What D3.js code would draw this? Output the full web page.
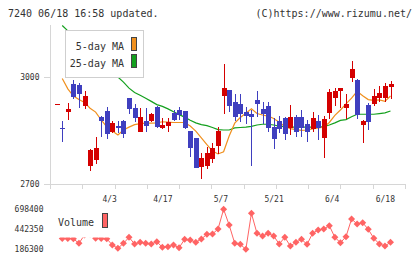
<!DOCTYPE html>
<html><head><meta charset="utf-8">
<script src="https://cdn.jsdelivr.net/npm/d3@7"></script>
<style>
html,body{margin:0;padding:0;background:#fff;}
svg{display:block;}
text{font-family:"DejaVu Sans Mono",monospace;fill:#333;}
</style></head><body>
<svg id="chart" width="420" height="259"></svg>
<script>
const dates = ["3/19","3/23","3/24","3/25","3/26","3/27","3/30","3/31","4/1","4/2","4/3","4/6","4/7","4/8","4/9","4/10","4/13","4/14","4/15","4/16","4/17","4/20","4/21","4/22","4/23","4/24","4/27","4/28","4/30","5/1","5/7","5/8","5/11","5/12","5/13","5/14","5/15","5/18","5/19","5/20","5/21","5/22","5/25","5/26","5/27","5/28","5/29","6/1","6/2","6/3","6/4","6/5","6/8","6/9","6/10","6/11","6/12","6/15","6/16","6/17","6/18"];
const open = [2924,2856,2902,2980,2977,2918,2750,2767,2888,2904, 2845,2862,2877,2941,2912,2846,2876,2876,2915,2856, 2862,2898,2907,2905,2848,2830,2747,2750,2770,2806, 2947,2963,2929,2924,2900,2895,2935,2910,2918,2860, 2876,2884,2857,2886,2888,2868,2854,2876,2829,2898, 2941,2961,2913,2997,2991,2865,2921,2924,2940,2941, 2972];
const high = [2924,2876,2927,2991,2981,2960,2797,2832,2889,2914, 2876,2876,2879,2941,2925,2913,2912,2899,2918,2885, 2885,2906,2914,2905,2848,2830,2786,2803,2815,2860, 3035,2963,2951,2951,2916,2907,2960,2928,2928,2884, 2890,2888,2921,2893,2907,2879,2902,2893,2890,2966, 2968,2969,2951,3044,2994,2879,2927,2966,2974,2983, 2988];
const low = [2924,2818,2879,2937,2912,2909,2737,2756,2832,2826, 2842,2842,2828,2896,2872,2846,2844,2873,2857,2855, 2844,2877,2879,2854,2776,2746,2715,2741,2758,2783, 2896,2902,2876,2874,2868,2750,2886,2868,2846,2799, 2843,2823,2837,2832,2832,2817,2844,2823,2773,2881, 2919,2912,2881,2984,2882,2814,2851,2919,2928,2928, 2938];
const close = [2924,2853,2910,2942,2952,2946,2795,2801,2877,2840, 2870,2856,2840,2909,2885,2888,2862,2896,2858,2864, 2872,2879,2893,2856,2802,2746,2772,2786,2801,2848, 2968,2919,2888,2896,2890,2888,2923,2895,2857,2825, 2854,2839,2886,2844,2857,2846,2885,2857,2881,2958, 2960,2968,2924,3021,2893,2877,2874,2946,2954,2974, 2980];
const ma5 = [null,2995,2966,2946,2936,2928,2912,2901,2879,2860, 2848,2837,2851,2859,2866,2869,2870,2870,2871,2874, 2873,2872,2872,2872,2862,2848,2829,2810,2792,2784, 2790,2834,2870,2886,2898,2910,2897,2893,2890,2883, 2873,2861,2855,2852,2850,2851,2854,2857,2859,2872, 2892,2907,2924,2940,2959,2947,2936,2934,2935,2931, 2946];
const ma25 = [null,3143,3128,3112,3097,3082,3066,3052,3038,3024, 3012,2999,2985,2968,2956,2948,2940,2931,2922,2917, 2910,2902,2894,2887,2878,2871,2866,2863,2858,2852, 2851,2851,2857,2858,2859,2861,2865,2867,2867,2865, 2862,2860,2859,2859,2859,2859,2859,2860,2860,2865, 2871,2878,2880,2888,2895,2895,2895,2895,2897,2899, 2904];
const volume = [null,324600,324600,320700,263100,369400,382200,327100,324600,320700, 241400,199100,263100,339900,254200,275900,263100,254200,283600,211900, 219600,241400,206800,314300,305400,275900,318200,378300,382200,446200, 698400,497400,263100,250300,186300,647200,391100,356600,391100,356600, 254200,339900,228500,275900,314300,250300,391100,433400,446200,488400, 339900,270800,347600,574200,510200,526800,442350,327100,254200,228500, 275900];
const priceTicks = [2700, 3000];
const volumeTicks = [186300, 442350, 698400];
const dateLabels = ["4/3","4/17","5/7","5/21","6/4","6/18"];
const maNames = ["5-day MA","25-day MA"];

const UP = "#d40000", DOWN = "#3f3fbf", MA5C = "#f0901e", MA25C = "#14a01e", VOLC = "#ff6464", GRID = "#d6d6d6";

const svg = d3.select("#chart");
const x = d3.scalePoint().domain(dates).range([56.7, 390.5]);
const y = d3.scaleLinear().domain([2700, 3000]).range([184, 76.7]);
const yv = d3.scaleLinear().domain([186300, 698400]).range([249.3, 209.3]);
const gridX = d3.scaleLinear().domain([0, 11]).range([50, 405]);

// title
svg.append("text").attr("x", 8).attr("y", 17).attr("font-size", 10).text("7240 06/18 16:58 updated.");
svg.append("text").attr("x", 412).attr("y", 17).attr("font-size", 10).attr("text-anchor", "end").text("(C)https://www.rizumu.net/");

// axes frame
const ax = svg.append("g").attr("stroke", GRID).attr("stroke-width", 1).attr("shape-rendering", "crispEdges");
ax.append("line").attr("x1", 50.5).attr("x2", 50.5).attr("y1", 25).attr("y2", 189);
ax.append("line").attr("x1", 50).attr("x2", 405).attr("y1", 184.5).attr("y2", 184.5);
d3.range(12).forEach(k => {
  const gx = Math.round(gridX(k)) + 0.5;
  ax.append("line").attr("x1", gx).attr("x2", gx).attr("y1", 184).attr("y2", 189);
});
priceTicks.forEach(t => {
  const ty = Math.round(y(t)) + 0.5;
  ax.append("line").attr("x1", 44).attr("x2", 50).attr("y1", ty).attr("y2", ty);
  svg.append("text").attr("x", 39.5).attr("y", y(t) + 3).attr("font-size", 8).attr("text-anchor", "end").text(t);
});
dateLabels.forEach(d => {
  svg.append("text").attr("x", x(d) + 4.5).attr("y", 202).attr("font-size", 8).attr("text-anchor", "end").text(d);
});

// clip for price area
svg.append("clipPath").attr("id", "pclip").append("rect").attr("x", 50).attr("y", 25).attr("width", 360).attr("height", 160);

// MA lines
const lineGen = arr => d3.line().defined(d => d != null).x((d, i) => x(dates[i])).y(d => y(d))(arr);
const mag = svg.append("g").attr("clip-path", "url(#pclip)");
mag.append("path").attr("d", lineGen(ma25)).attr("fill", "none").attr("stroke", MA25C).attr("stroke-width", 1.2);
mag.append("path").attr("d", lineGen(ma5)).attr("fill", "none").attr("stroke", MA5C).attr("stroke-width", 1.2);

// candles
const cg = svg.append("g").attr("shape-rendering", "crispEdges");
dates.forEach((d, i) => {
  const cx = x(d);
  const col = close[i] >= open[i] ? UP : DOWN;
  const wx = Math.round(cx) + 0.5;
  cg.append("line").attr("x1", wx).attr("x2", wx).attr("y1", y(high[i])).attr("y2", y(low[i])).attr("stroke", col).attr("stroke-width", 1);
  const top = y(Math.max(open[i], close[i])), bot = y(Math.min(open[i], close[i]));
  cg.append("rect").attr("x", Math.round(cx) - 2).attr("y", top).attr("width", 5).attr("height", Math.max(1, bot - top)).attr("fill", col);
});

// price legend
svg.append("rect").attr("x", 65.5).attr("y", 30.5).attr("width", 78).attr("height", 47).attr("fill", "#fff").attr("stroke", "#cfcfcf");
[MA5C, MA25C].forEach((c, k) => {
  svg.append("text").attr("x", 124).attr("y", 49.5 + k * 17).attr("font-size", 10).attr("text-anchor", "end").text(maNames[k]);
  svg.append("rect").attr("x", 131.5).attr("y", 37.5 + k * 17).attr("width", 5).attr("height", 13).attr("fill", c).attr("stroke", "#444");
});

// volume
volumeTicks.forEach(t => {
  svg.append("text").attr("x", 43.5).attr("y", yv(t) + 3).attr("font-size", 8).attr("text-anchor", "end").text(t);
});
const vline = d3.line().defined(d => d != null).x((d, i) => x(dates[i])).y(d => yv(d));
svg.append("path").attr("d", vline(volume)).attr("fill", "none").attr("stroke", VOLC).attr("stroke-width", 1);
const vg = svg.append("g").attr("fill", VOLC);
volume.forEach((v, i) => {
  if (v == null) return;
  const px = x(dates[i]), py = yv(v), r = 3.5;
  vg.append("path").attr("d", `M${px},${py - r}L${px + r},${py}L${px},${py + r}L${px - r},${py}Z`);
});
svg.append("rect").attr("x", 53).attr("y", 203).attr("width", 60).attr("height", 34.5).attr("fill", "#fff");
svg.append("text").attr("x", 58).attr("y", 226).attr("font-size", 10).text("Volume");
svg.append("rect").attr("x", 102.5).attr("y", 213.5).attr("width", 5).attr("height", 14).attr("fill", VOLC).attr("stroke", "#444");
</script>
</body></html>
